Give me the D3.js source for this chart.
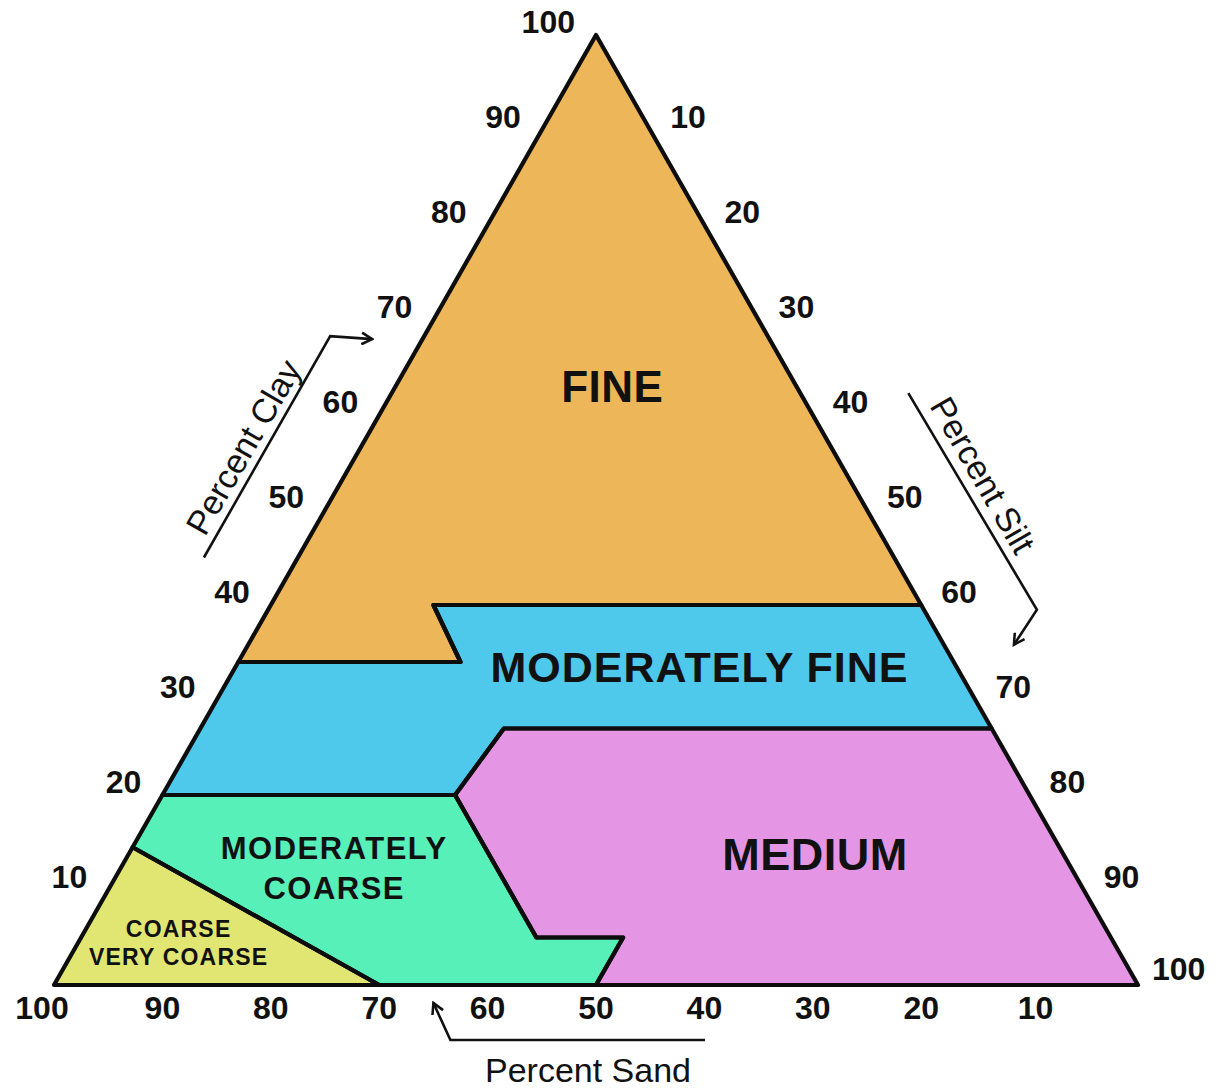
<!DOCTYPE html>
<html>
<head>
<meta charset="utf-8">
<script src="https://d3js.org/d3.v7.min.js"></script>
<style>
  html, body { margin: 0; padding: 0; background: #fff; }
  svg { display: block; font-family: "Liberation Sans", Arial, sans-serif; }
</style>
</head>
<body>
<svg id="chart"></svg>
<script>
// tick values along each side (percent)
const sandTicks = [100, 90, 80, 70, 60, 50, 40, 30, 20, 10];
const clayTicks = [10, 20, 30, 40, 50, 60, 70, 80, 90, 100];
const siltTicks = [10, 20, 30, 40, 50, 60, 70, 80, 90, 100];

// texture classes, vertices as [sand, clay] percent (silt = rest)
const classNames = ['FINE', 'MODERATELY FINE', 'MEDIUM', 'MODERATELY COARSE', 'COARSE VERY COARSE'];
const fine = [[0, 100], [0, 40], [45, 40], [45.5, 34], [66, 34]];
const moderatelyFine = [[66, 34], [45.5, 34], [45, 40], [0, 40], [0, 27], [45, 27], [53, 20], [80, 20]];
const medium = [[45, 27], [0, 27], [0, 0], [50, 0], [45, 5], [53, 5], [53, 20]];
const moderatelyCoarse = [[80, 20], [53, 20], [53, 5], [45, 5], [50, 0], [70, 0], [85.5, 14.5]];
const coarse = [[100, 0], [85.5, 14.5], [70, 0]];
const classShapes = [fine, moderatelyFine, medium, moderatelyCoarse, coarse];

// where each class name sits, [sand, clay]
const classLabelAt = [[17, 63], [23.7, 33.5], [22.9, 13.8], [68, 12.3], [86.3, 4.4]];
const classLabelLines = [['FINE'], ['MODERATELY FINE'], ['MEDIUM'], ['MODERATELY', 'COARSE'], ['COARSE', 'VERY COARSE']];

const colors = ['#edb658', '#4ec8eb', '#e496e4', '#58f0b9', '#e1e673'];

const width = 1224, height = 1090;
const svg = d3.select('#chart').attr('width', width).attr('height', height);

// ternary -> screen: x from (silt + clay/2), y from clay
const scaleX = d3.scaleLinear().domain([0, 100]).range([54, 1138]);
const scaleY = d3.scaleLinear().domain([0, 100]).range([985, 35]);
const px = (sand, clay) => {
    const silt = 100 - sand - clay;
    return [scaleX(silt + clay / 2), scaleY(clay)];
};

const defs = svg.append('defs');
defs.append('filter').attr('id', 'soft')
    .append('feGaussianBlur').attr('stdDeviation', 0.6);
const marker = defs.append('marker')
    .attr('id', 'arrow')
    .attr('viewBox', '0 0 12 12')
    .attr('refX', 10).attr('refY', 6)
    .attr('markerWidth', 14).attr('markerHeight', 14)
    .attr('markerUnits', 'userSpaceOnUse')
    .attr('orient', 'auto');
marker.append('path').attr('d', 'M1,1 L10,6 L1,11').attr('fill', 'none')
    .attr('stroke', '#111').attr('stroke-width', 2.2);

const line = d3.line();

// regions
const regions = svg.append('g');
regions.selectAll('path.fill')
    .data(classShapes)
    .join('path')
    .attr('class', 'fill')
    .attr('d', d => line(d.map(p => px(p[0], p[1]))) + 'Z')
    .attr('fill', (d, i) => colors[i]);

// outlines, slightly soft like the original
const outlines = svg.append('g').attr('filter', 'url(#soft)');
outlines.selectAll('path')
    .data(classShapes)
    .join('path')
    .attr('d', d => line(d.map(p => px(p[0], p[1]))) + 'Z')
    .attr('fill', 'none')
    .attr('stroke', '#0a0a0a')
    .attr('stroke-width', 4.2)
    .attr('stroke-linejoin', 'round');

// class names
const names = svg.append('g').attr('fill', '#111').attr('font-weight', 'bold').attr('text-anchor', 'middle');
const nameSize = [44, 43, 45, 31, 23];
const nameGap = [0, 0, 0, 40, 28];
const nameSpacing = [0.5, 1, 0.5, 1.5, 1.2];
classLabelLines.forEach((lines, i) => {
    const [cx, cy] = px(classLabelAt[i][0], classLabelAt[i][1]);
    const t = names.append('text')
        .attr('x', cx)
        .attr('y', cy - (lines.length - 1) * nameGap[i] / 2)
        .attr('font-size', nameSize[i])
        .attr('letter-spacing', nameSpacing[i]);
    lines.forEach((s, j) => {
        t.append('tspan').attr('x', cx).attr('dy', j === 0 ? '0.36em' : nameGap[i]).text(s);
    });
});

// tick labels
const ticks = svg.append('g').attr('fill', '#111').attr('font-weight', 'bold').attr('font-size', 32);
ticks.selectAll('text.sand')
    .data(sandTicks)
    .join('text')
    .attr('class', 'sand')
    .attr('x', d => px(d, 0)[0] + (d === 100 ? -12 : d === 10 ? 6 : 0))
    .attr('y', d => px(d, 0)[1] + 22)
    .attr('dy', '0.36em')
    .attr('text-anchor', 'middle')
    .text(d => d);
ticks.selectAll('text.clay')
    .data(clayTicks)
    .join('text')
    .attr('class', 'clay')
    .attr('x', d => px(100 - d, d)[0] - 21)
    .attr('y', d => px(100 - d, d)[1] - 14)
    .attr('dy', '0.36em')
    .attr('text-anchor', 'end')
    .text(d => d);
ticks.selectAll('text.silt')
    .data(siltTicks)
    .join('text')
    .attr('class', 'silt')
    .attr('x', d => px(0, 100 - d)[0] + (d === 100 ? 14 : 20))
    .attr('y', d => px(0, 100 - d)[1] - (d === 100 ? 17 : 14))
    .attr('dy', '0.36em')
    .attr('text-anchor', 'start')
    .text(d => d);

// axis titles with arrows
const titles = svg.append('g').attr('fill', '#111').attr('font-size', 34);
const arrows = svg.append('g').attr('fill', 'none').attr('stroke', '#111').attr('stroke-width', 2.6);

// clay: runs up alongside the left edge
const c0 = px(55, 45), c1 = px(31.7, 68.3);
arrows.append('path')
    .attr('d', line([[c0[0] - 94, c0[1]], [c1[0] - 94, c1[1]], [c1[0] - 52, c1[1] + 3]]))
    .attr('marker-end', 'url(#arrow)');
titles.append('text')
    .attr('transform', 'translate(243,447) rotate(-60)')
    .attr('text-anchor', 'middle').attr('dy', '0.36em')
    .text('Percent Clay');

// silt: runs down alongside the right edge
const s0 = px(0, 62.3), s1 = px(0, 39.5);
arrows.append('path')
    .attr('d', line([[s0[0] + 108, s0[1]], [s1[0] + 113, s1[1]], [s1[0] + 90, s1[1] + 35]]))
    .attr('marker-end', 'url(#arrow)');
titles.append('text')
    .attr('transform', 'translate(983,475) rotate(60)')
    .attr('text-anchor', 'middle').attr('dy', '0.36em')
    .text('Percent Silt');

// sand: under the base, pointing back up
const b0 = px(65, 0);
arrows.append('path')
    .attr('d', line([[705, b0[1] + 55], [b0[0] + 17, b0[1] + 55], [b0[0], b0[1] + 18]]))
    .attr('marker-end', 'url(#arrow)');
titles.append('text')
    .attr('x', 588).attr('y', 1082)
    .attr('text-anchor', 'middle')
    .text('Percent Sand');
</script>
</body>
</html>
